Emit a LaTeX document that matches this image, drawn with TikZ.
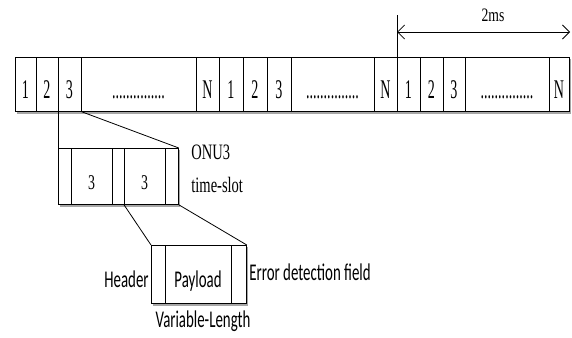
\documentclass[tikz,border=0pt]{standalone}
\usepackage{fontspec}
\setmainfont{Liberation Serif}
\newfontfamily\barfont[FakeStretch=0.52]{Liberation Serif}
\newfontfamily\labfont[FakeStretch=0.66]{Liberation Serif}
\newfontfamily\msfont[FakeStretch=0.72]{Liberation Serif}
\newfontfamily\sansc[FakeStretch=0.62]{Carlito}
\usetikzlibrary{arrows.meta}
\begin{document}
\begin{tikzpicture}[x=1pt,y=-1pt,line width=0.8pt,
  cellbox/.style={draw,line width=0.8pt,fill=white,inner sep=0pt,minimum height=54pt,anchor=north west},
  subbox/.style={draw,line width=0.8pt,fill=white,inner sep=0pt,minimum height=56pt,anchor=north west},
  paybox/.style={draw,line width=0.8pt,fill=white,inner sep=0pt,minimum height=58pt,anchor=north west},
  bartext/.style={font=\barfont\fontsize{27}{27}\selectfont,inner sep=0pt,anchor=base},
  subtext/.style={font=\labfont\fontsize{21}{21}\selectfont,inner sep=0pt,anchor=base},
  sidetext/.style={font=\labfont\fontsize{22}{22}\selectfont,inner sep=0pt,anchor=base west},
  sanstext/.style={font=\sansc\fontsize{24}{24}\selectfont,inner sep=0pt},
  shadow/.style={fill=black!35},
  conn/.style={line width=0.8pt}]
\useasboundingbox (0,0) rectangle (572,337);
% shadows
\fill[shadow] (17,59) rectangle (571,113.5);
\fill[shadow] (60,150) rectangle (180,206.5);
\fill[shadow] (153,247) rectangle (248,305.5);
% main bar
\foreach \a/\b/\t/\n in {15/36/1/c1,36/58/2/c2,58/81/3/c3,81/196/{...............}/c4,196/219/N/c5,
  219/243/1/c6,243/267/2/c7,267/291/3/c8,291/374/{...............}/c9,374/397/N/c10,
  397/420/1/c11,420/443/2/c12,443/465/3/c13,465/549/{...............}/c14,549/569/N/c15}{
  \node[cellbox,minimum width={\b-\a}] (\n) at (\a,57) {};
  \node[bartext] (t\n) at ({(\a+\b)/2},98) {\t};
}
% 2ms
\coordinate (m1) at (397,15);
\coordinate (m2) at (397,32);
\coordinate (m3) at (570,32);
\draw[conn] (c11.north west) -- (m1);
\draw[conn,{Straight Barb[length=7pt,width=14pt]}-{Straight Barb[length=7pt,width=14pt]}] (m2) -- (m3);
\node[font=\msfont\fontsize{19}{19}\selectfont,inner sep=0pt,anchor=base] (ms) at (493,22) {2ms};
% second box
\foreach \a/\b/\t/\n in {58/71//s1,71/112/3/s2,112/124//s3,124/165/3/s4,165/178//s5}{
  \node[subbox,minimum width={\b-\a}] (\n) at (\a,148) {};
  \node[subtext] (t\n) at ({(\a+\b)/2},189) {\t};
}
\draw[conn] (c3.south west) -- (s1.north west);
\draw[conn] (c3.south east) -- (s5.north east);
\node[sidetext] (onu) at (191,159) {ONU3};
\node[sidetext] (ts) at (191,192) {time-slot};
% third box
\foreach \a/\b/\t/\n in {151/165//p1,165/231/Payload/p2,231/246//p3}{
  \node[paybox,minimum width={\b-\a}] (\n) at (\a,245) {};
}
\node[sanstext,anchor=base] (pl) at (198,287) {Payload};
\draw[conn] (s4.south west) -- (p1.north west);
\draw[conn] (s5.south east) -- (p3.north east);
\node[sanstext,anchor=base east] (hd) at (149,287) {Header};
\node[sanstext,anchor=base west] (ed) at (249,280) {Error detection field};
\node[sanstext,anchor=base] (vl) at (203,327) {Variable-Length};
\end{tikzpicture}
\end{document}
